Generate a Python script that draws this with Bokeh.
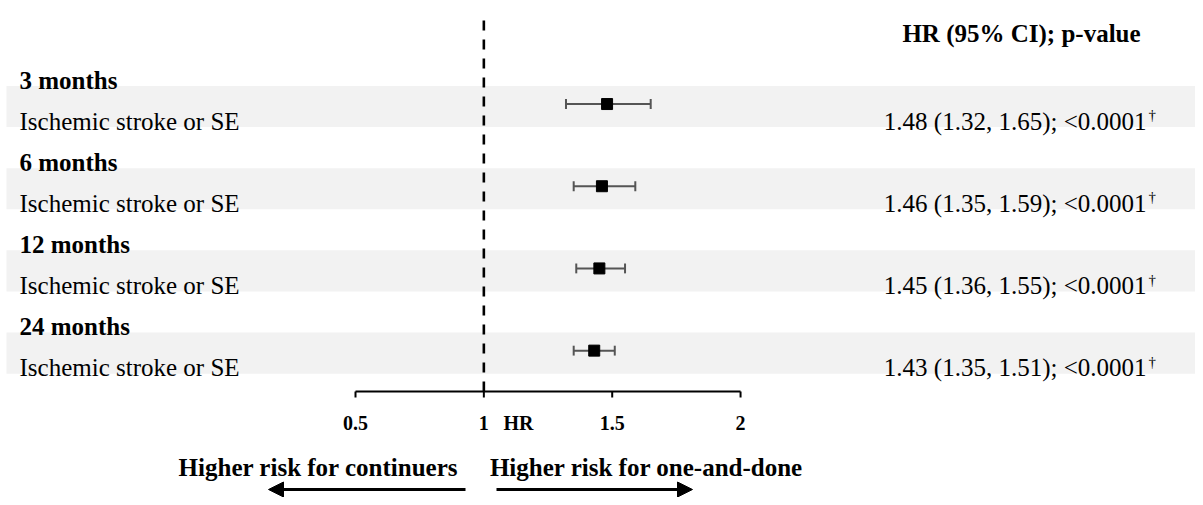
from bokeh.plotting import figure
from bokeh.models import Range1d, Arrow, NormalHead, ColumnDataSource
from bokeh.core.properties import value
from bokeh.embed import file_html
from bokeh.resources import INLINE

# ---------------- data ----------------
groups = ["3 months", "6 months", "12 months", "24 months"]
outcomes = ["Ischemic stroke or SE"] * 4
hr = [1.48, 1.46, 1.45, 1.43]
ci_low = [1.32, 1.35, 1.36, 1.35]
ci_high = [1.65, 1.59, 1.55, 1.51]
p_values = ["<0.0001", "<0.0001", "<0.0001", "<0.0001"]
p_marks = ["\u2020", "\u2020", "\u2020", "\u2020"]
tick_values = [0.5, 1, 1.5, 2]
tick_labels = ["0.5", "1", "1.5", "2"]
column_header = "HR (95% CI); p-value"
axis_label = "HR"
left_note = "Higher risk for continuers"
right_note = "Higher risk for one-and-done"

# ---------------- layout helpers ----------------
W, H = 1195, 497
PX_PER_UNIT = 256.7
X0_PX = 355.0      # pixel of HR = 0.5 in the picture
ROW_PX = 41.1
ROW0_PX = 64.9
OFF = 0            # picture pixel of the figure's top-left corner


def hx(px):
    return 0.5 + (px - X0_PX) / PX_PER_UNIT


def ry(py):
    return (py - ROW0_PX) / ROW_PX


FONT = value("Liberation Serif")
BIG = "25px"
SMALL = "20px"

p = figure(width=W, height=H, output_backend="svg", toolbar_location=None,
           x_range=Range1d(hx(OFF), hx(OFF + W)), y_range=Range1d(ry(OFF + H), ry(OFF)),
           min_border=0, outline_line_color=None)
p.xaxis.visible = False
p.yaxis.visible = False
p.grid.visible = False
p.background_fill_color = "white"
p.border_fill_color = "white"

# rows: header at 2*i, item at 2*i+1
head_rows = [2 * i for i in range(len(groups))]
item_rows = [2 * i + 1 for i in range(len(groups))]
BASE = 0.36  # baseline offset in row units

# grey bands
p.quad(left=hx(6), right=hx(1220), bottom=[r + 0.5 for r in item_rows],
       top=[r - 0.5 for r in item_rows], fill_color="#f2f2f2", line_color=None)

# reference line
p.segment(x0=[1], x1=[1], y0=[ry(20)], y1=[ry(395)], line_color="black",
          line_width=2.6, line_dash="10 9")

# text: headers and outcomes
p.text(x=hx(19), y=[r + BASE for r in head_rows], text=groups, text_font=FONT,
       text_font_size=BIG, text_font_style="bold", text_baseline="alphabetic",
       text_align="left", text_color="black")
p.text(x=hx(19), y=[r + BASE for r in item_rows], text=outcomes, text_font=FONT,
       text_font_size=BIG, text_baseline="alphabetic", text_align="left",
       text_color="black")

# CI whiskers
cap = 0.12
ys = [r - 0.06 for r in item_rows]
src = ColumnDataSource(dict(y=ys, y_top=[y - cap for y in ys], y_bot=[y + cap for y in ys],
                            hr=hr, lo=ci_low, hi=ci_high))
p.segment(x0="lo", x1="hi", y0="y", y1="y", source=src, line_color="#555555", line_width=2)
p.segment(x0="lo", x1="lo", y0="y_top", y1="y_bot", source=src, line_color="#555555",
          line_width=2)
p.segment(x0="hi", x1="hi", y0="y_top", y1="y_bot", source=src, line_color="#555555",
          line_width=2)
p.scatter(x="hr", y="y", source=src, marker="square", size=11, fill_color="black",
          line_color="black")

# value column
p.text(x=hx(1021), y=ry(33), text=[column_header], text_font=FONT, text_font_size=BIG,
       text_font_style="bold", text_align="center", text_baseline="alphabetic",
       text_color="black")
value_texts = [f"{h:.2f} ({l:.2f}, {u:.2f}); {pv}" for h, l, u, pv in
               zip(hr, ci_low, ci_high, p_values)]
p.text(x=hx(1146), y=[r + BASE for r in item_rows], text=value_texts, text_font=FONT,
       text_font_size=BIG, text_align="right", text_baseline="alphabetic",
       text_color="black")
p.text(x=hx(1148), y=[r + BASE - 0.15 for r in item_rows], text=p_marks, text_font=FONT,
       text_font_size="15px", text_align="left", text_baseline="alphabetic",
       text_color="black")

# axis
ay = ry(391)
p.segment(x0=[tick_values[0]], x1=[tick_values[-1]], y0=[ay], y1=[ay], line_color="black",
          line_width=2)
p.segment(x0=tick_values, x1=tick_values, y0=[ay] * len(tick_values),
          y1=[ry(397)] * len(tick_values), line_color="black", line_width=2)
p.text(x=tick_values, y=[ry(422)] * len(tick_values), text=tick_labels, text_font=FONT,
       text_font_size=SMALL, text_font_style="bold", text_align="center",
       text_baseline="alphabetic", text_color="black")
p.text(x=[hx(503)], y=[ry(422)], text=[axis_label], text_font=FONT, text_font_size=SMALL,
       text_font_style="bold", text_align="left", text_baseline="alphabetic",
       text_color="black")

# direction notes
p.text(x=[hx(318)], y=[ry(467)], text=[left_note], text_font=FONT, text_font_size=BIG,
       text_font_style="bold", text_align="center", text_baseline="alphabetic",
       text_color="black")
p.text(x=[hx(646)], y=[ry(467)], text=[right_note], text_font=FONT, text_font_size=BIG,
       text_font_style="bold", text_align="center", text_baseline="alphabetic",
       text_color="black")

arr_y = ry(489)
p.add_layout(Arrow(end=NormalHead(size=15, fill_color="black", line_color="black"),
                   x_start=hx(465), x_end=hx(268), y_start=arr_y, y_end=arr_y,
                   line_width=3, line_color="black"))
p.add_layout(Arrow(end=NormalHead(size=15, fill_color="black", line_color="black"),
                   x_start=hx(496), x_end=hx(692), y_start=arr_y, y_end=arr_y,
                   line_width=3, line_color="black"))

open("out.html", "w").write(file_html(p, INLINE))
